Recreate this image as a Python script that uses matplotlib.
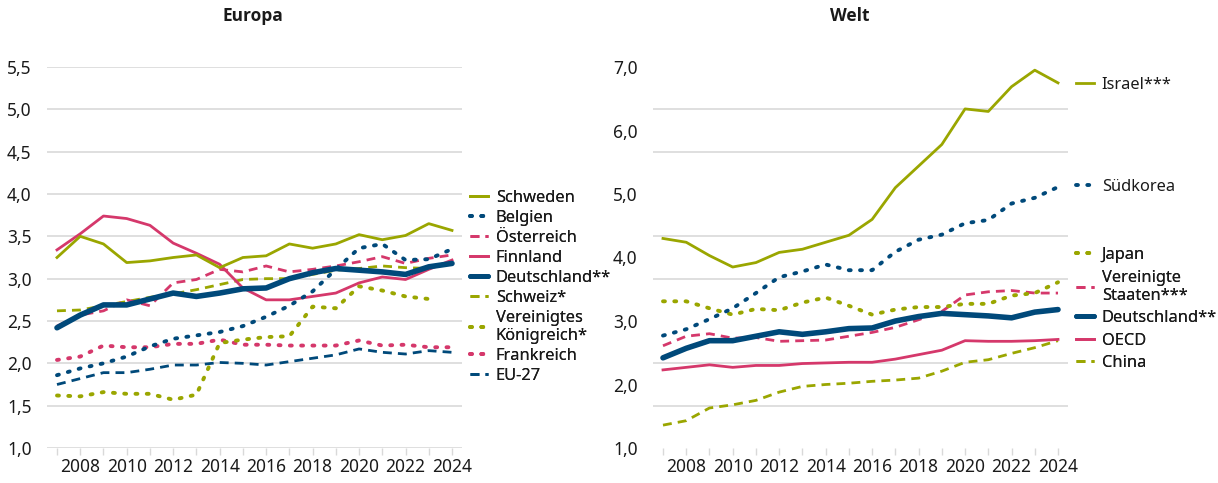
import numpy as np
import matplotlib
matplotlib.use("Agg")
import matplotlib.pyplot as plt
from matplotlib.lines import Line2D
from matplotlib.ticker import FixedLocator

plt.rcParams["font.family"] = ["Noto Sans", "DejaVu Sans"]

years = list(range(2007, 2025))

# Europa
schweden = [3.25, 3.50, 3.41, 3.19, 3.21, 3.25, 3.28, 3.13, 3.25, 3.27, 3.41, 3.36, 3.41, 3.52, 3.46, 3.51, 3.65, 3.57]
belgien = [1.86, 1.94, 2.00, 2.08, 2.20, 2.29, 2.33, 2.37, 2.44, 2.55, 2.68, 2.85, 3.11, 3.36, 3.41, 3.22, 3.23, 3.35]
oesterreich = [2.44, 2.57, 2.62, 2.75, 2.68, 2.95, 2.99, 3.11, 3.08, 3.15, 3.08, 3.11, 3.15, 3.20, 3.26, 3.18, 3.24, 3.28]
finnland = [3.34, 3.53, 3.74, 3.71, 3.63, 3.42, 3.30, 3.17, 2.89, 2.75, 2.75, 2.79, 2.83, 2.95, 3.02, 2.99, 3.11, 3.22]
deutschland = [2.42, 2.57, 2.69, 2.69, 2.76, 2.83, 2.79, 2.83, 2.88, 2.89, 3.00, 3.07, 3.12, 3.10, 3.08, 3.05, 3.14, 3.18]
schweiz = [2.62, 2.63, 2.68, 2.73, 2.78, 2.82, 2.87, 2.93, 2.99, 3.00, 3.00, 3.05, 3.10, 3.12, 3.15, 3.13, 3.12, None]
uk = [1.62, 1.61, 1.66, 1.64, 1.64, 1.57, 1.63, 2.24, 2.28, 2.31, 2.32, 2.67, 2.65, 2.91, 2.86, 2.79, 2.76, None]
frankreich = [2.04, 2.08, 2.21, 2.19, 2.19, 2.23, 2.23, 2.28, 2.22, 2.22, 2.21, 2.21, 2.21, 2.27, 2.21, 2.22, 2.19, 2.19]
eu27 = [1.75, 1.82, 1.89, 1.89, 1.93, 1.98, 1.98, 2.01, 2.00, 1.98, 2.02, 2.06, 2.10, 2.17, 2.13, 2.11, 2.15, 2.13]

# Welt
israel = [4.30, 4.24, 4.03, 3.85, 3.92, 4.08, 4.13, 4.24, 4.35, 4.60, 5.10, 5.44, 5.78, 6.34, 6.30, 6.69, 6.95, 6.75]
suedkorea = [2.77, 2.87, 3.03, 3.20, 3.44, 3.69, 3.78, 3.89, 3.80, 3.80, 4.09, 4.28, 4.36, 4.54, 4.59, 4.85, 4.94, 5.11]
japan = [3.31, 3.31, 3.20, 3.10, 3.19, 3.17, 3.29, 3.37, 3.24, 3.10, 3.18, 3.22, 3.22, 3.27, 3.27, 3.40, 3.44, 3.61]
usa = [2.61, 2.76, 2.80, 2.73, 2.74, 2.68, 2.69, 2.70, 2.76, 2.82, 2.90, 3.02, 3.15, 3.41, 3.46, 3.48, 3.44, 3.44]
oecd = [2.23, 2.27, 2.31, 2.27, 2.30, 2.30, 2.33, 2.34, 2.35, 2.35, 2.40, 2.47, 2.54, 2.69, 2.68, 2.68, 2.69, 2.71]
china = [1.36, 1.43, 1.63, 1.68, 1.75, 1.88, 1.97, 2.00, 2.02, 2.05, 2.07, 2.10, 2.21, 2.35, 2.39, 2.49, 2.58, 2.69]

GREEN = "#9aa600"
PINK = "#d5386b"
NAVY = "#00497a"
GRID = "#d9d9d9"
TXT = "#1a1a1a"
FS = 12.5
LFS = 11.8

solid = dict(linestyle="-", lw=2.0)
dotted = dict(linestyle=(0, (0.5, 2.4)), lw=2.8, dash_capstyle="round")
dashed = dict(linestyle=(0, (3.2, 2.2)), lw=2.0)
thick = dict(linestyle="-", lw=4.0, solid_capstyle="round")

fig = plt.figure(figsize=(12.18, 4.83), dpi=100)
ax1 = fig.add_axes([47 / 1218, 1 - 448 / 483, 415 / 1218, 381 / 483])
ax2 = fig.add_axes([653 / 1218, 1 - 448 / 483, 415 / 1218, 381 / 483])


def arr(v):
    return np.array([np.nan if x is None else x for x in v], dtype=float)


def style_axis(ax):
    for s in ax.spines.values():
        s.set_visible(False)
    ax.set_xlim(2006.57, 2024.43)
    ax.set_xticks(years)
    ax.set_xticklabels([str(y) if y % 2 == 0 else "" for y in years], fontsize=FS, color=TXT)
    ax.tick_params(axis="x", length=5, color=GRID, width=1, pad=2)
    ax.tick_params(axis="y", length=0, labelsize=FS, labelcolor=TXT, pad=11)
    ax.tick_params(which="minor", length=0)


def mk_handles(items):
    return [Line2D([], [], color=c, **{k: v for k, v in st.items() if k != "lw"},
                   lw=(3.5 if st is thick else st["lw"])) for _, _, c, st in items]


def add_legend(ax, items, top, spacing):
    lg = ax.legend(mk_handles(items), [n for n, _, _, _ in items], loc="upper left",
                   bbox_to_anchor=(1.02, top), frameon=False, fontsize=LFS,
                   handlelength=1.1, handletextpad=0.45, labelspacing=spacing,
                   borderaxespad=0, borderpad=0)
    for t in lg.get_texts():
        t.set_color(TXT)
    ax.add_artist(lg)


# Europa
eu_series = [
    ("Schweden", schweden, GREEN, solid),
    ("Belgien", belgien, NAVY, dotted),
    ("Österreich", oesterreich, PINK, dashed),
    ("Finnland", finnland, PINK, solid),
    ("Deutschland**", deutschland, NAVY, thick),
    ("Schweiz*", schweiz, GREEN, dashed),
    ("Vereinigtes\nKönigreich*", uk, GREEN, dotted),
    ("Frankreich", frankreich, PINK, dotted),
    ("EU-27", eu27, NAVY, dashed),
]
style_axis(ax1)
ax1.set_ylim(1.0, 5.5)
ax1.set_yticks(np.arange(1.0, 5.51, 0.5))
ax1.set_yticklabels([f"{v:.1f}".replace(".", ",") for v in np.arange(1.0, 5.51, 0.5)])
ax1.grid(axis="y", color=GRID, lw=1.2)
ax1.set_axisbelow(True)
for i in [8, 7, 6, 5, 3, 2, 1, 0, 4]:
    name, vals, col, st = eu_series[i]
    ax1.plot(years, arr(vals), color=col, zorder=3 if i != 4 else 4, **st)
add_legend(ax1, eu_series, 0.678, 0.245)

# Welt
w_series = [
    ("Israel***", israel, GREEN, solid),
    ("Südkorea", suedkorea, NAVY, dotted),
    ("Japan", japan, GREEN, dotted),
    ("Vereinigte\nStaaten***", usa, PINK, dashed),
    ("Deutschland**", deutschland, NAVY, thick),
    ("OECD", oecd, PINK, solid),
    ("China", china, GREEN, dashed),
]
style_axis(ax2)
ax2.set_ylim(1.0, 7.0)
ax2.set_yticks(np.arange(1, 8))
ax2.set_yticklabels([f"{v:.1f}".replace(".", ",") for v in np.arange(1, 8)])
ax2.yaxis.set_minor_locator(FixedLocator(1 + np.arange(10) * 6 / 9))
ax2.grid(axis="y", which="minor", color=GRID, lw=1.2)
ax2.grid(axis="y", which="major", visible=False)
ax2.set_axisbelow(True)
for i in [6, 5, 3, 2, 1, 0, 4]:
    name, vals, col, st = w_series[i]
    ax2.plot(years, arr(vals), color=col, zorder=3 if i != 4 else 4, **st)

add_legend(ax2, w_series[0:1], 0.975, 0.385)
add_legend(ax2, w_series[1:2], 0.707, 0.385)
add_legend(ax2, w_series[2:], 0.527, 0.385)

for x, label in [(253, "Europa"), (850, "Welt")]:
    fig.text(x / 1218, 1 - 16 / 483, label, ha="center", va="center", fontsize=FS,
             fontweight="bold", color=TXT, family=["Open Sans", "Lato", "DejaVu Sans"])

fig.savefig("out.png", dpi=100)
